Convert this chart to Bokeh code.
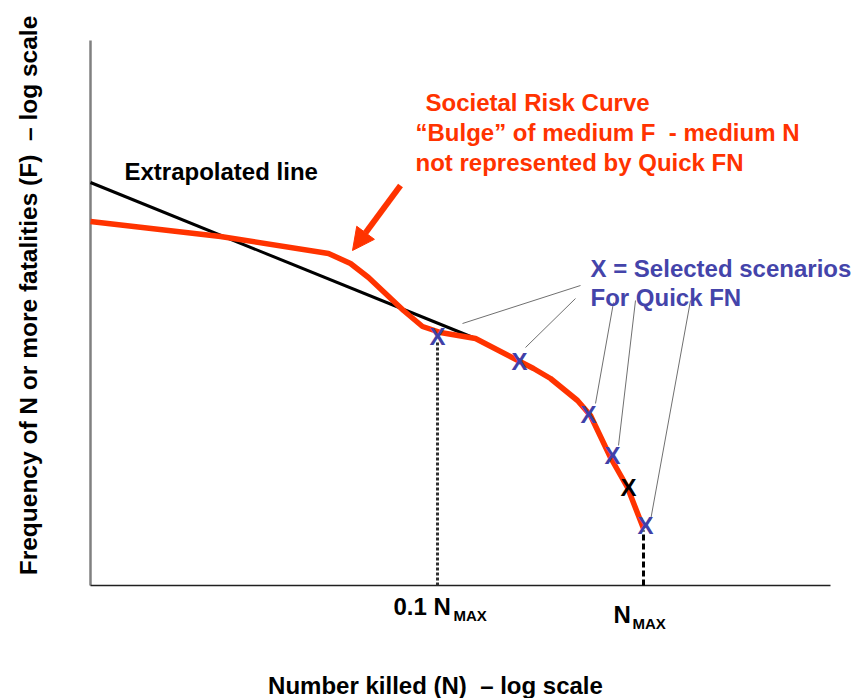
import math
from bokeh.plotting import figure
from bokeh.models import Range1d, Arrow, NormalHead
from bokeh.core.properties import value
from bokeh.embed import file_html
from bokeh.resources import INLINE

# Schematic coordinates: x = log-N position (0 = axis origin), y = log-F position (0 = x-axis)
AXIS_X_LEN = 740
AXIS_Y_LEN = 545

# Extrapolated straight line
extrap_x = [0, 385]
extrap_y = [403, 247]

# Societal risk curve (red)
curve_x = [0, 130, 238, 260, 278, 313, 332, 350, 385, 443, 460, 487, 500, 520, 537, 553]
curve_y = [364, 349, 332, 322, 308, 275, 259, 253, 247, 217, 207, 185, 170, 128, 98, 57]

# Selected scenarios (blue X) and extra scenario (black X)
sel_x = [347, 429, 498, 522, 555]
sel_y = [249, 224, 171, 130, 60]
extra_x = [538]
extra_y = [98]

# Leader lines from the "Selected scenarios" label
lead_x0 = [490, 485, 523, 545, 600]
lead_y0 = [300, 287, 283, 285, 285]
lead_x1 = [372, 435, 505, 528, 560]
lead_y1 = [262, 238, 182, 140, 65]

# Reference verticals
n01_x = 347
nmax_x = 553

p = figure(width=855, height=698, output_backend="svg", toolbar_location=None,
           x_range=Range1d(-90, 765), y_range=Range1d(-113, 585),
           min_border=0, outline_line_color=None)
p.xaxis.visible = False
p.yaxis.visible = False
p.xgrid.visible = False
p.ygrid.visible = False

# axes lines
p.line([0, 0], [0, AXIS_Y_LEN], line_color="#808080", line_width=2.5)
p.line([0, AXIS_X_LEN], [0, 0], line_color="#202020", line_width=1.5)

# verticals
p.line([n01_x, n01_x], [0, 245], line_color="#303030", line_width=3, line_dash="3 2")
p.line([nmax_x, nmax_x], [0, 55], line_color="#000000", line_width=3, line_dash="6 3")

# leader lines
p.segment(lead_x0, lead_y0, lead_x1, lead_y1, line_color="#707070", line_width=1)

# extrapolated line
p.line(extrap_x, extrap_y, line_color="black", line_width=3)

# red curve
p.line(curve_x, curve_y, line_color="#FF3300", line_width=5.5, line_join="round")

# markers
fnt = value("Liberation Sans")
p.text(sel_x, sel_y, text=["X"] * len(sel_x), text_color="#4040A8", text_font=fnt,
       text_font_style="bold", text_font_size="24px", text_align="center", text_baseline="middle")
p.text(extra_x, extra_y, text=["X"], text_color="black", text_font=fnt,
       text_font_style="bold", text_font_size="24px", text_align="center", text_baseline="middle")

# arrow
p.add_layout(Arrow(end=NormalHead(size=22, fill_color="#FF3300", line_color="#FF3300"),
                   x_start=310, y_start=400, x_end=262, y_end=335,
                   line_color="#FF3300", line_width=6))

def label(x, y, t, color="black", size="24px", align="left", angle=0.0):
    p.text([x], [y], text=[t], text_color=color, text_font=fnt, text_font_style="bold",
           text_font_size=size, text_align=align, text_baseline="middle", angle=angle)

label(34, 414, "Extrapolated line")
red = "#FF3300"
label(335, 483, "Societal Risk Curve", red)
label(325, 453, "\u201cBulge\u201d of medium F\u00a0 - medium N", red)
label(325, 423, "not represented by Quick FN", red)
blue = "#4444AA"
label(500, 317, "X = Selected scenarios", blue)
label(500, 288, "For Quick FN", blue)

label(303, -21, "0.1 N")
label(363, -30, "MAX", size="15px")
label(523, -29, "N")
label(542, -38, "MAX", size="15px")

label(345, -100, "Number killed (N)\u00a0 \u2013 log scale", align="center")
label(-62, 290, "Frequency of N or more fatalities (F)\u00a0 \u2013 log scale", align="center",
      angle=math.pi / 2, size="24.5px")

open("out.html", "w").write(file_html(p, INLINE))
